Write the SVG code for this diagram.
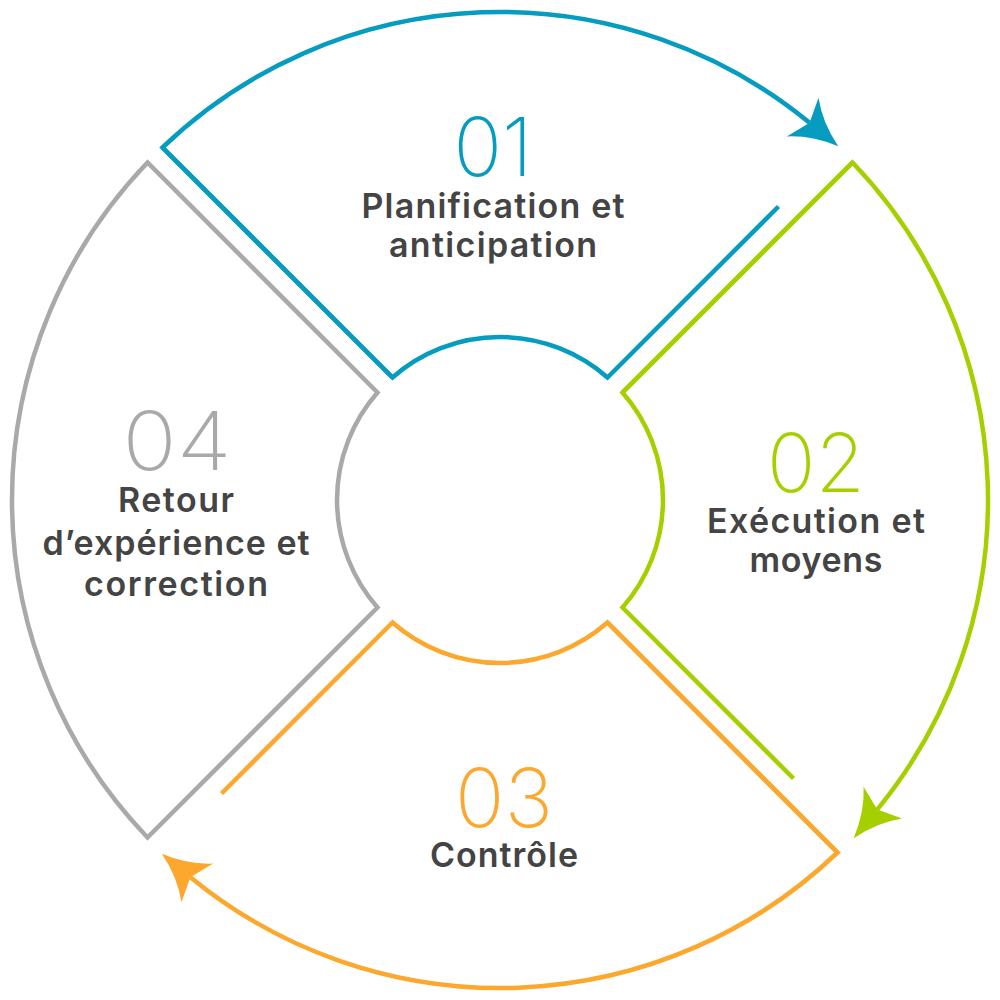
<svg xmlns="http://www.w3.org/2000/svg" width="1000" height="1000" viewBox="0 0 1000 1000">
<style>
.s{fill:none;stroke-width:4.5;stroke-linejoin:miter;stroke-miterlimit:10}
.blue{stroke:#069CC0}
.green{stroke:#A6CF00}
.orange{stroke:#FCA72E}
.gray{stroke:#A9A9A9}
.num{font-family:Inter,"Open Sans","Liberation Sans",sans-serif;font-weight:200;font-size:81px;text-anchor:middle}
.lbl{font-family:Inter,"Open Sans","Liberation Sans",sans-serif;font-weight:600;font-size:34px;fill:#444444;text-anchor:middle}
</style>
<defs>
<marker id="ah-blue" markerUnits="userSpaceOnUse" viewBox="-20 -30 70 60" markerWidth="70" markerHeight="60" refX="0" refY="0" orient="auto" overflow="visible"><path d="M37,0 Q10,-8 -9,-25 L0,0 L-9,25 Q10,8 37,0 Z" fill="#069CC0"/></marker>
<marker id="ah-green" markerUnits="userSpaceOnUse" viewBox="-20 -30 70 60" markerWidth="70" markerHeight="60" refX="0" refY="0" orient="auto" overflow="visible"><path d="M37,0 Q10,-8 -9,-25 L0,0 L-9,25 Q10,8 37,0 Z" fill="#A6CF00"/></marker>
<marker id="ah-orange" markerUnits="userSpaceOnUse" viewBox="-20 -30 70 60" markerWidth="70" markerHeight="60" refX="0" refY="0" orient="auto" overflow="visible"><path d="M37,0 Q10,-8 -9,-25 L0,0 L-9,25 Q10,8 37,0 Z" fill="#FCA72E"/></marker>
</defs>

<g id="step1">
<path class="s blue" transform="translate(500 500)" d="M-337.5,-352.5 L-107.5,-122.5 A163,163 0 0 1 107.5,-122.5 L278.5,-293.5"/>
<text class="num" x="493" y="176" fill="#069CC0" textLength="79" lengthAdjust="spacingAndGlyphs">01</text>
<text class="lbl" x="493" y="218" textLength="263">Planification et</text>
<text class="lbl" x="493" y="257" textLength="208">anticipation</text>
</g>

<g id="step2">
<path class="s green" transform="translate(500 500) rotate(90)" d="M-337.5,-352.5 L-107.5,-122.5 A163,163 0 0 1 107.5,-122.5 L278.5,-293.5"/>
<text class="num" x="816" y="492" fill="#A6CF00" textLength="98" lengthAdjust="spacingAndGlyphs">02</text>
<text class="lbl" x="816" y="533" textLength="218">Exécution et</text>
<text class="lbl" x="816" y="572" textLength="133">moyens</text>
</g>

<g id="step3">
<path class="s orange" transform="translate(500 500) rotate(180)" d="M-337.5,-352.5 L-107.5,-122.5 A163,163 0 0 1 107.5,-122.5 L278.5,-293.5"/>
<text class="num" x="504" y="827" fill="#FCA72E" textLength="98" lengthAdjust="spacingAndGlyphs">03</text>
<text class="lbl" x="504" y="867" textLength="148">Contrôle</text>
</g>

<g id="step4">
<path class="s gray" transform="translate(500 500) rotate(270)" d="M-337.5,-352.5 L-107.5,-122.5 A163,163 0 0 1 107.5,-122.5 L337.5,-352.5 A488,488 0 0 0 -337.5,-352.5 Z"/>
<text class="num" x="177" y="470" fill="#A9A9A9" textLength="109" lengthAdjust="spacingAndGlyphs">04</text>
<text class="lbl" x="176" y="512" textLength="116">Retour</text>
<text class="lbl" x="176" y="555" textLength="267">d’expérience et</text>
<text class="lbl" x="176" y="596" textLength="184">correction</text>
</g>

<g id="connectors">
<path class="s blue" transform="translate(500 500)" d="M-107.5,-122.5 L-337.5,-352.5 A488,488 0 0 1 309.6,-377.2" marker-end="url(#ah-blue)"/>
<path class="s green" transform="translate(500 500) rotate(90)" d="M-107.5,-122.5 L-337.5,-352.5 A488,488 0 0 1 309.6,-377.2" marker-end="url(#ah-green)"/>
<path class="s orange" transform="translate(500 500) rotate(180)" d="M-107.5,-122.5 L-337.5,-352.5 A488,488 0 0 1 309.6,-377.2" marker-end="url(#ah-orange)"/>
</g>
</svg>
